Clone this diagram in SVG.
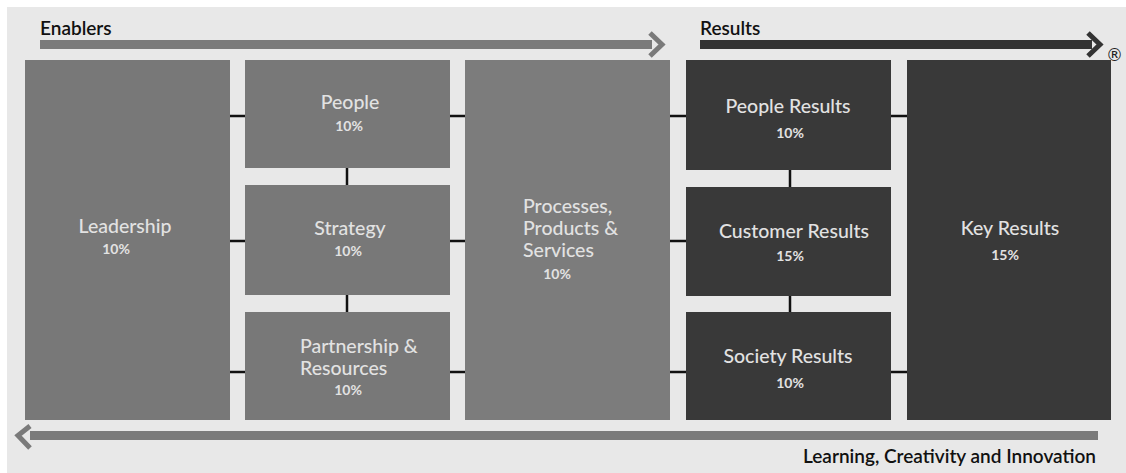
<svg xmlns="http://www.w3.org/2000/svg" width="1126" height="473" viewBox="0 0 1126 473">
<style>
.bg{fill:#e8e8e8}
.en{fill:#787878}
.pr{fill:#7c7c7c}
.rs{fill:#393939}
.lbl{font-family:Lato,"Open Sans",sans-serif;font-size:19.5px;fill:#e2e2e2;font-weight:500}
.pct{font-family:Lato,"Open Sans",sans-serif;font-size:14px;fill:#e2e2e2;font-weight:700}
.hd{font-family:Lato,"Open Sans",sans-serif;font-size:19px;fill:#111;font-weight:600}
.conn{stroke:#111;stroke-width:2.5;fill:none}
</style>
<rect class="bg" x="7" y="7" width="1119" height="466"/>
<g id="enablers-arrow">
<text class="hd" x="40" y="35">Enablers</text>
<rect x="40" y="40" width="612" height="9" fill="#7a7a7a"/>
<path d="M650,33 L662,44.5 L650,56" stroke="#7a7a7a" stroke-width="5" fill="none"/>
</g>
<g id="results-arrow">
<text class="hd" x="700" y="35">Results</text>
<rect x="700" y="40" width="392" height="9" fill="#333"/>
<path d="M1088,33 L1100,44.5 L1088,56" stroke="#333" stroke-width="5" fill="none"/>
<text x="1106" y="61" font-family="'DejaVu Sans',sans-serif" font-size="17" fill="#222">®</text>
</g>
<g id="learning-arrow">
<rect x="30" y="431" width="1068" height="9" fill="#7a7a7a"/>
<path d="M30,426 L18,435.5 L30,448" stroke="#7a7a7a" stroke-width="5" fill="none"/>
<text class="hd" x="1096" y="463" text-anchor="end" font-size="19.3">Learning, Creativity and Innovation</text>
</g>
<g id="connectors">
<path class="conn" d="M230,116H245M450,116H465M670,116H686M891,116H907"/>
<path class="conn" d="M230,241H245M450,241H465M670,241H686"/>
<path class="conn" d="M230,372H245M450,372H465M670,372H686M891,372H907"/>
<path class="conn" d="M347,168V185M347,295V312M790,170V187M790,296V312"/>
</g>
<g id="leadership">
<rect class="en" x="25" y="60" width="205" height="360"/>
<text class="lbl" x="125" y="233" text-anchor="middle">Leadership</text>
<text class="pct" x="116" y="254" text-anchor="middle">10%</text>
</g>
<g id="people">
<rect class="en" x="245" y="60" width="205" height="108"/>
<text class="lbl" x="350" y="109" text-anchor="middle">People</text>
<text class="pct" x="349" y="131" text-anchor="middle">10%</text>
</g>
<g id="strategy">
<rect class="en" x="245" y="185" width="205" height="110"/>
<text class="lbl" x="350" y="235" text-anchor="middle">Strategy</text>
<text class="pct" x="348" y="256" text-anchor="middle">10%</text>
</g>
<g id="partnership">
<rect class="en" x="245" y="312" width="205" height="108"/>
<text class="lbl" x="300" y="353">Partnership &amp;</text>
<text class="lbl" x="300" y="375">Resources</text>
<text class="pct" x="348" y="395" text-anchor="middle">10%</text>
</g>
<g id="processes">
<rect class="pr" x="465" y="60" width="205" height="360"/>
<text class="lbl" x="523" y="213">Processes,</text>
<text class="lbl" x="523" y="235">Products &amp;</text>
<text class="lbl" x="523" y="257">Services</text>
<text class="pct" x="557" y="279" text-anchor="middle">10%</text>
</g>
<g id="people-results">
<rect class="rs" x="686" y="60" width="205" height="110"/>
<text class="lbl" x="788" y="113" text-anchor="middle">People Results</text>
<text class="pct" x="790" y="138" text-anchor="middle">10%</text>
</g>
<g id="customer-results">
<rect class="rs" x="686" y="187" width="205" height="109"/>
<text class="lbl" x="794" y="238" text-anchor="middle">Customer Results</text>
<text class="pct" x="790" y="261" text-anchor="middle">15%</text>
</g>
<g id="society-results">
<rect class="rs" x="686" y="312" width="205" height="108"/>
<text class="lbl" x="788" y="363" text-anchor="middle">Society Results</text>
<text class="pct" x="790" y="388" text-anchor="middle">10%</text>
</g>
<g id="key-results">
<rect class="rs" x="907" y="60" width="204" height="360"/>
<text class="lbl" x="1010" y="235" text-anchor="middle">Key Results</text>
<text class="pct" x="1005" y="260" text-anchor="middle">15%</text>
</g>
</svg>
